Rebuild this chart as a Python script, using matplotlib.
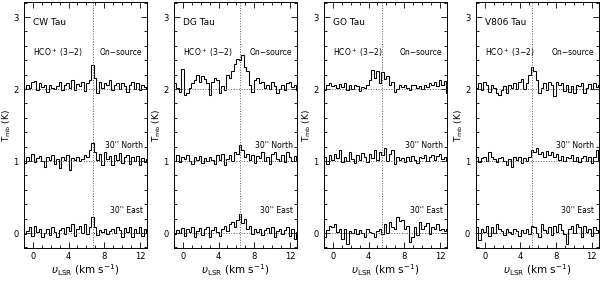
import numpy as np
import matplotlib
matplotlib.use("Agg")
import matplotlib.pyplot as plt
from matplotlib.ticker import MultipleLocator

# channel edges (km/s)
edges = np.arange(51) * 0.28 - 1.0

sources = ["CW Tau", "DG Tau", "GO Tau", "V806 Tau"]
v_source = [6.7, 6.42, 5.48, 5.3]
offsets = [2, 1, 0]
pos_labels = ["On\u2212source", "30'' North", "30'' East"]

cw_on = [0.0, 0.05, 0.02, 0.10, 0.11, -0.02, 0.08, 0.03, 0.05, -0.04, 0.06, 0.02, 0.0, 0.04, 0.10, -0.02, 0.06, 0.09, 0.01, 0.12, -0.01, 0.07, 0.04, 0.10, -0.03, 0.08, 0.12, 0.33, 0.15, -0.05, 0.10, 0.02, 0.09, 0.06, 0.13, -0.02, 0.05, 0.08, 0.0, 0.09, 0.04, -0.04, 0.06, 0.10, 0.0, 0.08, -0.02, 0.05, 0.03, 0.0]
cw_north = [-0.03, 0.06, 0.0, 0.10, -0.02, 0.04, 0.07, 0.0, -0.08, 0.05, 0.02, 0.09, -0.04, 0.03, -0.1, 0.06, 0.01, 0.08, -0.12, 0.04, 0.02, 0.05, 0.0, 0.03, 0.08, 0.06, 0.15, 0.25, 0.12, 0.02, 0.10, -0.05, 0.12, 0.03, 0.07, -0.06, 0.09, 0.02, 0.11, -0.03, 0.05, 0.08, -0.04, 0.06, 0.0, 0.07, -0.05, 0.04, -0.02, 0.03]
cw_east = [-0.02, 0.03, 0.08, -0.04, 0.10, 0.02, 0.05, -0.05, 0.0, 0.06, -0.03, 0.08, 0.01, -0.05, 0.04, 0.07, -0.02, 0.09, 0.03, 0.12, -0.04, 0.06, 0.10, 0.0, 0.13, -0.02, 0.08, 0.22, 0.09, -0.03, 0.04, 0.01, 0.05, -0.02, 0.03, 0.06, 0.0, 0.08, 0.04, -0.05, 0.07, 0.02, 0.09, -0.06, 0.05, 0.0, 0.08, -0.04, 0.06, 0.02]

dg_on = [0.08, 0.02, -0.04, 0.28, -0.08, -0.05, 0.02, 0.08, 0.12, 0.20, 0.10, 0.18, 0.14, 0.08, -0.08, 0.10, 0.16, 0.12, -0.06, 0.04, -0.02, 0.20, 0.16, 0.25, 0.35, 0.42, 0.40, 0.48, 0.30, 0.25, 0.05, -0.04, 0.12, 0.15, 0.08, 0.10, 0.02, 0.06, 0.0, 0.10, 0.04, -0.05, 0.0, 0.05, -0.02, 0.08, 0.10, 0.03, 0.06, -0.02]
dg_north = [0.0, 0.08, -0.02, 0.06, 0.03, 0.09, 0.0, -0.04, 0.05, 0.02, 0.07, -0.03, 0.04, 0.0, 0.06, 0.01, -0.04, 0.08, 0.02, 0.10, -0.05, 0.03, 0.08, 0.0, 0.12, 0.10, 0.22, 0.15, 0.05, 0.10, 0.02, 0.09, -0.03, 0.07, 0.04, 0.12, 0.0, 0.05, -0.04, 0.10, 0.13, 0.03, 0.0, 0.08, -0.02, 0.12, 0.05, 0.0, 0.07, 0.02]
dg_east = [-0.02, 0.04, 0.0, 0.07, -0.04, 0.06, 0.02, 0.08, -0.05, 0.03, 0.07, -0.03, 0.05, 0.09, -0.06, 0.04, 0.08, 0.02, -0.04, 0.06, 0.10, 0.03, 0.12, 0.15, 0.08, 0.18, 0.27, 0.14, 0.20, 0.06, 0.10, -0.02, 0.05, 0.02, 0.06, -0.03, 0.04, 0.07, 0.0, 0.08, -0.05, 0.03, 0.06, -0.02, 0.04, 0.08, -0.04, 0.06, -0.08, 0.02]

go_on = [-0.02, 0.05, 0.08, 0.04, 0.06, 0.02, 0.07, 0.03, 0.08, -0.02, 0.06, 0.0, 0.05, 0.04, -0.03, 0.03, 0.02, 0.05, 0.12, 0.27, 0.15, 0.25, 0.08, 0.24, 0.14, 0.18, 0.06, 0.10, -0.04, 0.0, 0.05, 0.03, 0.06, 0.02, -0.02, 0.05, 0.06, 0.02, 0.04, 0.0, 0.06, 0.03, 0.08, 0.05, 0.10, 0.04, 0.12, 0.06, 0.11, -0.05]
go_north = [0.05, -0.04, 0.08, 0.02, 0.10, 0.04, 0.15, -0.02, 0.06, 0.0, 0.12, 0.03, -0.03, 0.08, 0.02, 0.11, 0.05, -0.02, 0.10, 0.04, 0.15, 0.02, 0.12, 0.08, 0.18, 0.0, 0.10, 0.15, -0.04, 0.06, 0.02, 0.04, -0.02, 0.05, 0.0, 0.07, 0.02, -0.03, 0.06, 0.04, 0.08, 0.0, 0.05, 0.09, 0.02, 0.07, 0.10, 0.03, 0.06, 0.0]
go_east = [-0.05, 0.04, 0.10, 0.08, 0.13, 0.02, 0.06, -0.08, 0.05, -0.15, 0.03, 0.0, 0.05, -0.02, 0.04, 0.0, -0.05, 0.06, 0.02, 0.0, -0.06, 0.03, 0.05, -0.02, 0.12, 0.0, 0.15, 0.08, 0.05, 0.22, 0.16, 0.18, 0.05, 0.10, -0.12, -0.05, 0.08, -0.03, 0.15, 0.05, 0.10, 0.14, -0.02, 0.08, 0.06, 0.12, 0.04, 0.06, 0.03, 0.05]

v806_on = [0.02, 0.08, -0.02, 0.10, 0.05, -0.04, 0.06, 0.02, -0.06, -0.08, -0.02, 0.04, -0.05, 0.06, 0.02, 0.08, 0.0, 0.10, 0.14, 0.0, 0.08, 0.20, 0.30, 0.25, 0.12, -0.05, 0.02, 0.08, -0.02, 0.10, 0.06, -0.10, 0.10, 0.05, 0.09, -0.03, 0.06, -0.04, 0.04, -0.05, 0.06, 0.04, 0.08, -0.06, 0.02, 0.07, 0.0, 0.09, 0.03, 0.06]
v806_north = [0.05, -0.02, 0.04, 0.06, 0.0, 0.12, 0.05, 0.03, -0.02, 0.04, 0.06, 0.0, -0.05, 0.03, -0.08, 0.05, 0.02, 0.06, -0.03, 0.04, 0.0, 0.05, 0.15, 0.12, 0.18, 0.10, 0.13, 0.05, 0.14, 0.08, 0.12, 0.06, 0.10, 0.02, 0.07, 0.0, 0.05, 0.04, 0.08, 0.0, 0.06, -0.02, 0.04, 0.07, 0.0, 0.05, -0.03, 0.06, 0.15, 0.02]
v806_east = [0.08, -0.10, 0.06, 0.02, 0.10, -0.04, 0.08, 0.0, 0.12, 0.05, 0.03, -0.03, 0.06, 0.02, -0.02, 0.05, 0.03, -0.04, 0.04, 0.0, 0.06, -0.02, 0.10, 0.08, 0.0, -0.05, 0.12, 0.04, 0.0, 0.08, -0.03, 0.10, 0.02, 0.12, 0.04, -0.02, -0.15, 0.06, 0.10, 0.0, 0.12, 0.08, -0.05, 0.10, 0.02, 0.06, -0.04, 0.08, 0.04, 0.0]

spectra = [
    [cw_on, cw_north, cw_east],
    [dg_on, dg_north, dg_east],
    [go_on, go_north, go_east],
    [v806_on, v806_north, v806_east],
]

fig = plt.figure(figsize=(6, 2.81), dpi=100)
lefts = [0.040, 0.290, 0.540, 0.793]

for k, name in enumerate(sources):
    ax = fig.add_axes([lefts[k], 0.117, 0.205, 0.876])
    for spec, off in zip(spectra[k], offsets):
        ax.axhline(off, color='0.35', ls=':', lw=0.7)
        ax.stairs(np.array(spec) + off, edges, baseline=None, color='black', lw=0.75)
    ax.axvline(v_source[k], color='0.35', ls=':', lw=0.7)

    ax.set_xlim(-1, 12.8)
    ax.set_ylim(-0.21, 3.21)
    ax.xaxis.set_major_locator(MultipleLocator(4))
    ax.xaxis.set_minor_locator(MultipleLocator(1))
    ax.yaxis.set_major_locator(MultipleLocator(1))
    ax.yaxis.set_minor_locator(MultipleLocator(0.2))
    ax.tick_params(which='both', direction='in', top=True, right=True,
                   labelsize=6, width=0.6)
    ax.tick_params(axis='y', pad=4)
    ax.tick_params(axis='x', pad=3)
    ax.tick_params(which='major', length=4)
    ax.tick_params(which='minor', length=2)
    for s in ax.spines.values():
        s.set_linewidth(0.7)

    ax.text(0.0, 2.93, name, fontsize=6.5, ha='left', va='center')
    ax.text(0.0, 2.51, r'HCO$^+$ (3$-$2)', fontsize=5.5, ha='left', va='center')
    ax.text(12.3, 2.51, pos_labels[0], fontsize=5.5, ha='right', va='center')
    ax.text(12.3, 1.21, pos_labels[1], fontsize=5.5, ha='right', va='center')
    ax.text(12.3, 0.31, pos_labels[2], fontsize=5.5, ha='right', va='center')

    ax.set_xlabel(r'$\upsilon_{\rm LSR}$ (km s$^{-1}$)', fontsize=7.5, labelpad=1)
    ax.set_ylabel(r'T$_{\rm mb}$ (K)', fontsize=6.5, labelpad=0)

fig.savefig('out.png', dpi=100, facecolor='white')
